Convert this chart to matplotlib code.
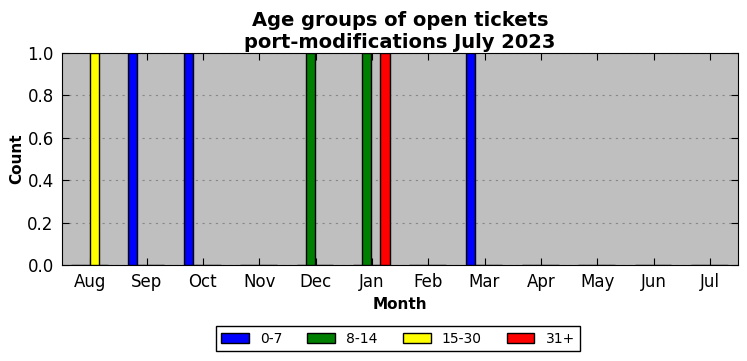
import matplotlib
matplotlib.use('Agg')
import matplotlib.pyplot as plt
import numpy as np

months = ['Aug', 'Sep', 'Oct', 'Nov', 'Dec', 'Jan', 'Feb', 'Mar', 'Apr', 'May', 'Jun', 'Jul']
groups = ['0-7', '8-14', '15-30', '31+']
colors = ['blue', 'green', 'yellow', 'red']

# counts per month for each age group
age_0_7 = [0, 1, 1, 0, 0, 0, 0, 1, 0, 0, 0, 0]
age_8_14 = [0, 0, 0, 0, 1, 1, 0, 0, 0, 0, 0, 0]
age_15_30 = [1, 0, 0, 0, 0, 0, 0, 0, 0, 0, 0, 0]
age_31 = [0, 0, 0, 0, 0, 1, 0, 0, 0, 0, 0, 0]
series = [age_0_7, age_8_14, age_15_30, age_31]

fig = plt.figure(figsize=(7.47, 3.61), dpi=100)
ax = fig.add_axes([0.083, 0.266, 0.905, 0.587])
ax.set_facecolor('#bfbfbf')

x = np.arange(len(months))
w = 0.163
for i, (vals, lab, c) in enumerate(zip(series, groups, colors)):
    ax.bar(x + (i - 1.5) * w - 0.01, vals, w, color=c, edgecolor='black',
           linewidth=1, label=lab, zorder=3)

ax.set_xlim(-0.5, 11.5)
ax.set_ylim(0, 1)
ax.set_xticks(x)
ax.set_xticklabels(months)
ax.set_yticks(np.arange(0, 1.01, 0.2))
ax.set_yticklabels(['%.1f' % v for v in np.arange(0, 1.01, 0.2)])
ax.tick_params(direction='in', top=True, right=True, labelsize=12, length=5, pad=6)
ax.yaxis.grid(True, linestyle=(0, (2, 4)), color='#888888', linewidth=0.8, zorder=0)
ax.set_axisbelow(True)

ax.set_xlabel('Month', fontsize=11, fontweight='bold')
ax.set_ylabel('Count', fontsize=11, fontweight='bold', labelpad=2)
ax.set_title('Age groups of open tickets\nport-modifications July 2023',
             fontsize=14, fontweight='bold', linespacing=1.2, pad=4)

ax.legend(loc='upper center', bbox_to_anchor=(0.497, -0.255), ncol=4, fontsize=10,
          fancybox=False, edgecolor='black', framealpha=1, handlelength=2.0,
          handletextpad=0.8, columnspacing=1.8, borderpad=0.4)

plt.savefig('out.png', dpi=100)
